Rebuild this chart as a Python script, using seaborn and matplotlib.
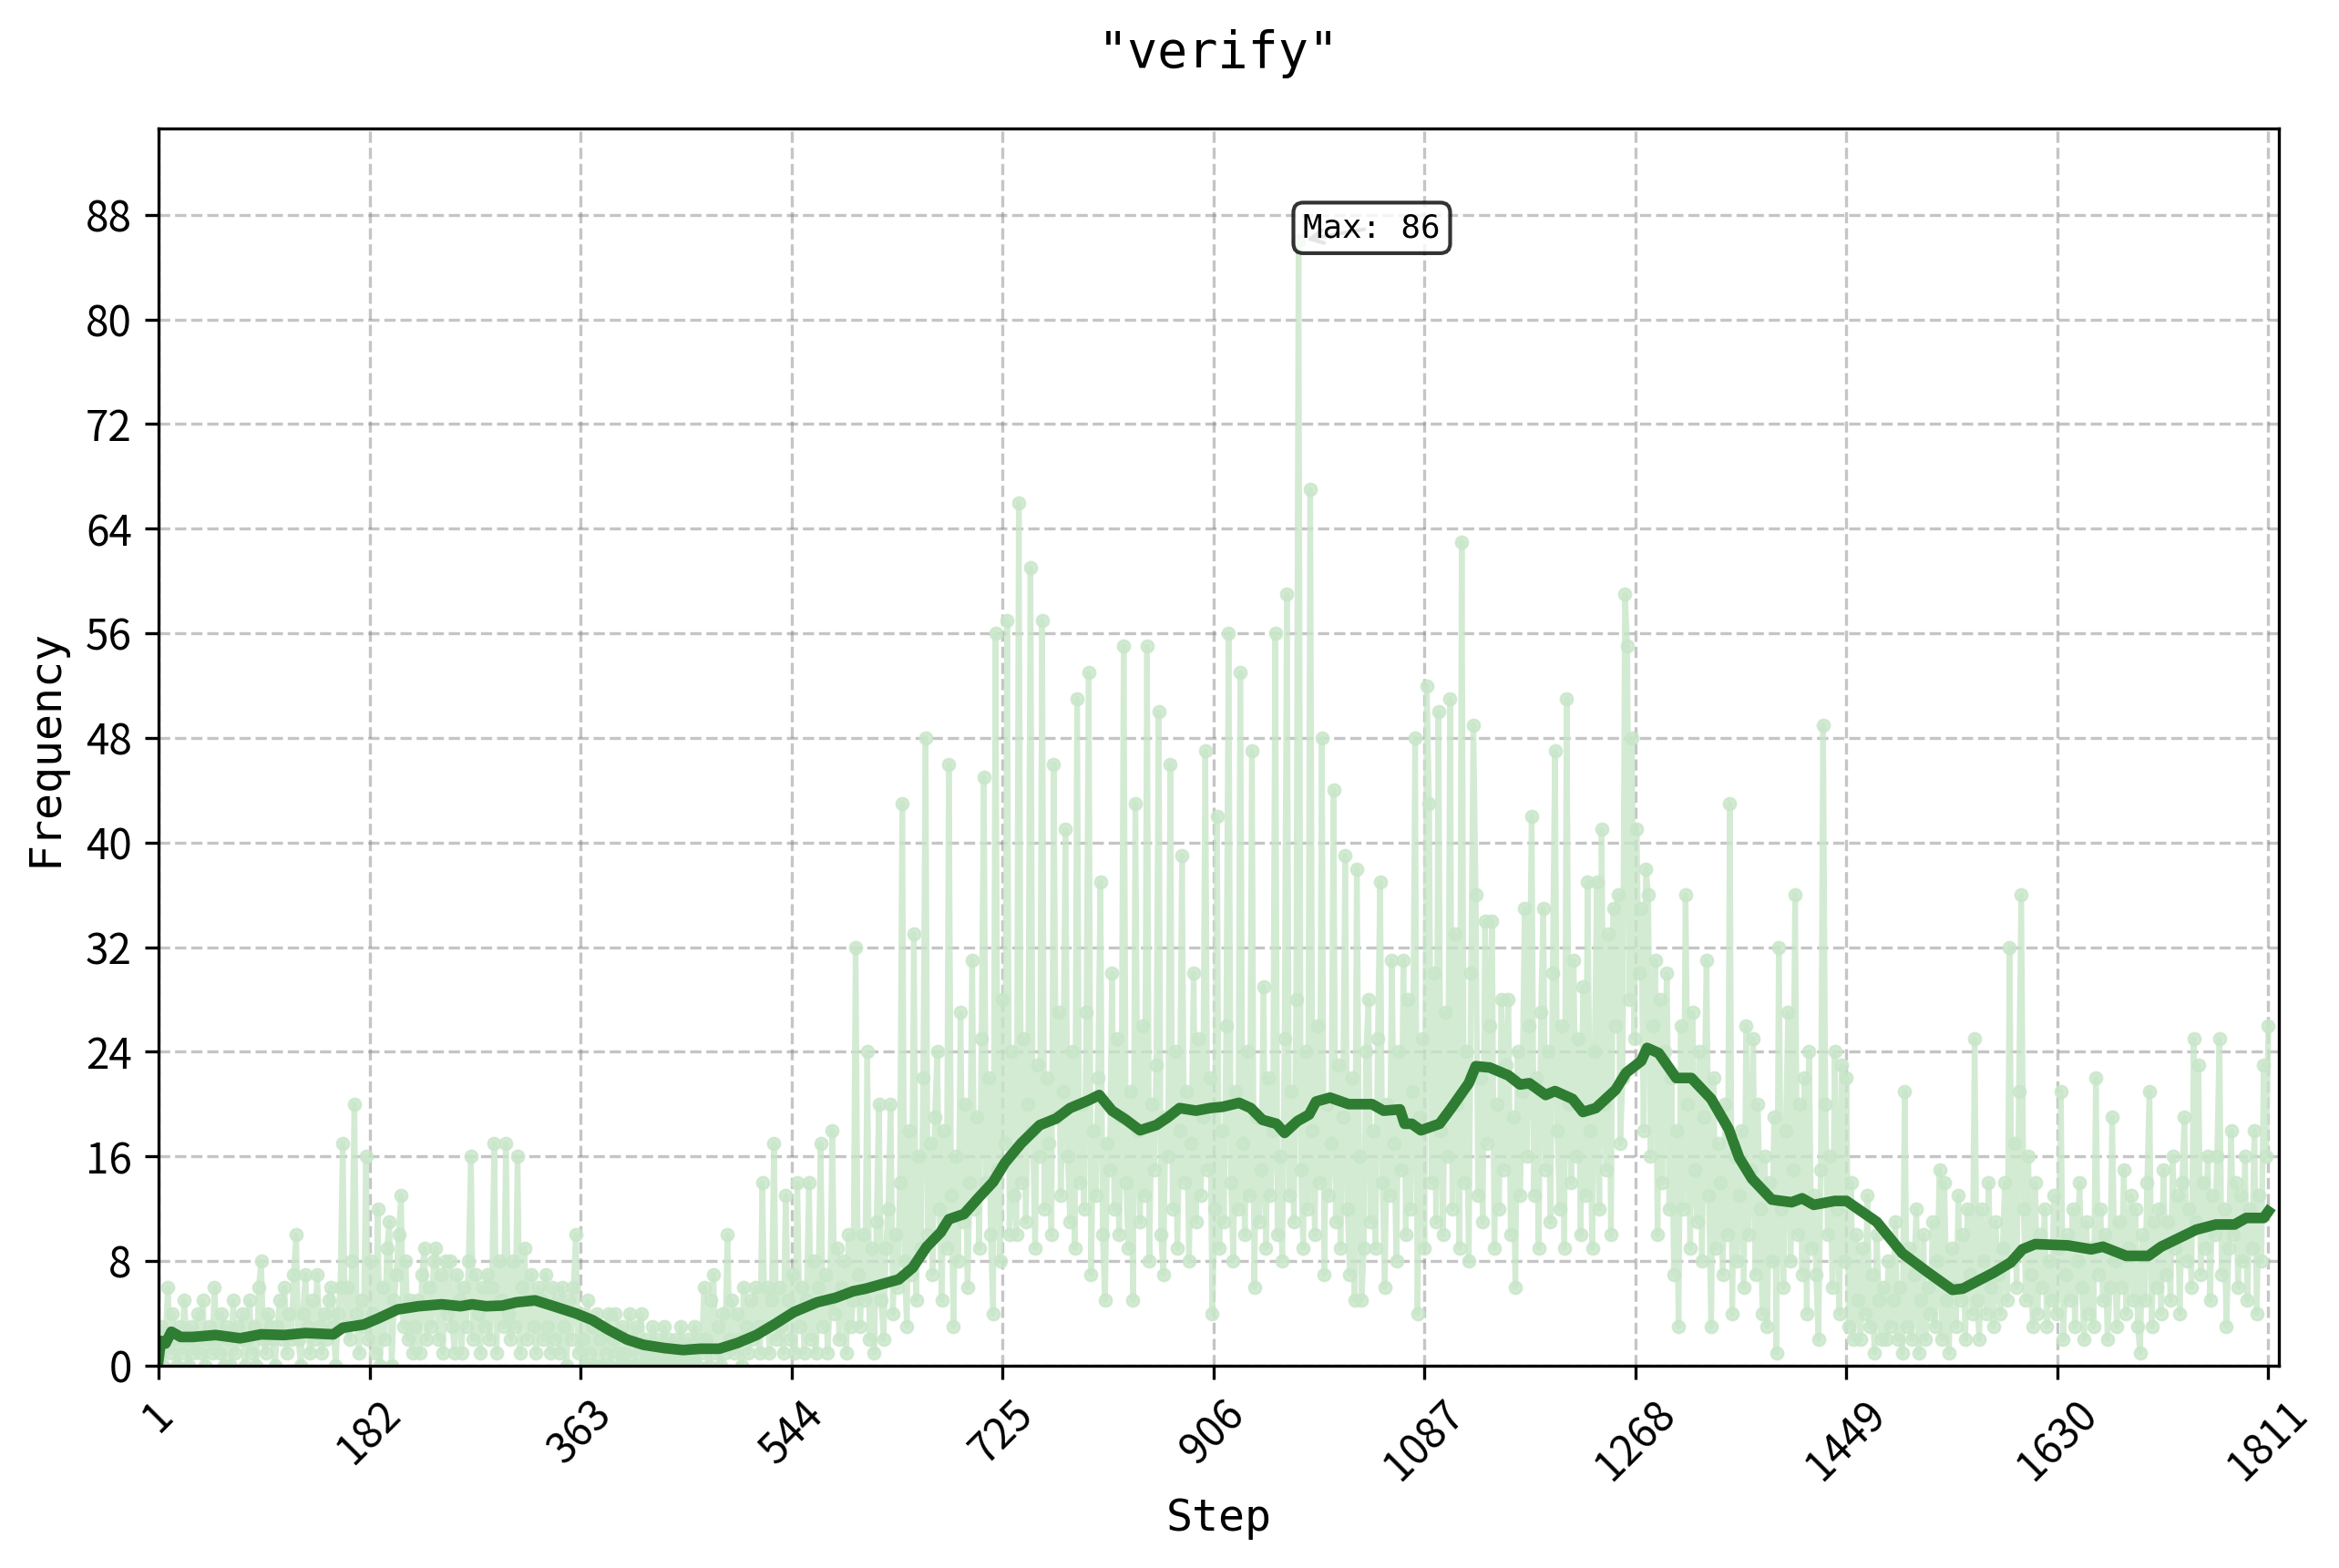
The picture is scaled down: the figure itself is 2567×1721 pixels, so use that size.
import seaborn as sns
import matplotlib
matplotlib.use('Agg')
import matplotlib.pyplot as plt

# raw counts, one value for every second step (1, 3, 5, ... 1811)
freq = [
    1,3,0,2,6,1,4,2,0,3, 1,5,2,0,3,1,2,4,1,5, 0,2,3,1,6,2,1,4,0,3, 2,0,5,1,3,2,4,0,2,5, 1,3,0,6,8,2,1,4,3,2,
    0,3,5,2,6,1,4,2,7,10, 2,0,4,7,3,1,5,2,7,3, 1,4,2,5,6,3,0,4,6,17, 3,6,2,8,20,4,1,5,3,16, 2,8,4,1,12,0,6,2,9,11,
    0,5,7,10,13,3,8,2,5,1, 3,5,1,7,9,2,6,3,8,9, 2,7,1,8,4,8,3,1,7,5, 1,6,3,8,16,2,7,4,1,6, 3,7,2,6,17,1,8,5,3,17,
    4,2,8,3,16,1,6,9,2,5, 7,3,1,6,5,2,7,3,1,6, 2,5,1,6,3,0,5,2,6,10, 1,4,2,0,5,1,3,0,4,2, 0,3,1,4,0,2,4,1,0,3,
    1,0,4,2,0,3,1,4,0,2, 0,1,3,0,2,0,1,3,0,2, 1,0,2,0,3,1,0,2,0,1, 3,0,2,1,6,2,0,5,7,1, 3,0,4,1,10,2,5,1,4,2,
    0,6,3,1,5,2,6,3,1,14, 3,6,1,5,17,2,6,3,1,13, 5,2,7,1,14,3,6,1,5,14, 2,8,1,6,17,3,7,1,5,18, 4,9,2,6,8,1,10,3,5,32,
    7,3,10,5,24,2,9,1,11,20, 5,2,9,12,20,4,10,6,14,43, 8,3,18,7,33,5,16,9,22,48, 10,17,7,19,24,12,5,18,9,46, 13,3,16,8,27,11,20,6,14,31,
    12,19,9,25,45,14,22,10,4,56, 15,8,28,17,57,10,24,13,10,66, 14,25,11,20,61,18,9,23,16,57, 12,22,17,10,46,19,27,13,21,41, 16,11,24,9,51,14,20,12,27,53,
    7,18,13,22,37,10,5,17,15,30, 12,25,10,19,55,14,9,21,5,43, 18,11,26,13,55,8,20,15,23,50, 10,7,19,16,46,12,24,9,18,39, 14,21,8,17,30,11,25,13,19,47,
    15,22,4,12,42,9,18,11,26,56, 14,8,21,12,53,17,10,24,13,47, 6,19,11,15,29,9,22,13,18,56, 10,16,8,25,59,13,21,11,28,86, 15,9,24,12,67,18,10,26,14,48,
    7,20,13,17,44,11,23,9,19,39, 12,7,22,5,38,16,5,9,24,28, 11,18,9,25,37,14,6,20,13,31, 17,8,24,15,31,10,28,12,21,48, 4,19,25,9,52,43,14,30,11,50,
    18,10,27,16,51,12,33,20,9,63, 14,24,8,30,49,36,13,22,11,34, 17,26,34,9,20,12,28,15,23,28, 10,19,6,24,13,21,35,16,26,42, 13,22,9,27,35,15,24,11,30,47,
    18,12,26,9,51,20,14,31,16,25, 10,29,13,37,18,9,24,37,12,41, 20,15,33,10,35,26,36,17,22,59, 55,28,48,25,41,30,35,18,38,36, 16,26,31,10,28,14,24,30,12,22,
    7,18,3,26,12,36,20,9,27,15, 11,24,8,19,31,13,3,22,9,17, 14,7,20,10,43,4,16,8,13,18, 6,26,10,15,25,7,20,12,4,16, 3,14,8,19,1,32,12,6,18,27,
    8,15,36,10,20,7,22,4,24,9, 13,7,2,15,49,20,10,16,6,24, 12,4,23,8,22,3,14,2,10,5, 2,9,4,13,3,7,1,10,5,2, 6,2,8,3,5,11,2,6,1,21,
    3,9,2,7,12,1,5,10,2,6, 4,11,3,8,15,2,14,5,1,9, 6,3,13,5,10,2,12,7,4,25, 5,2,12,8,4,14,6,3,11,7, 4,9,14,5,32,8,17,6,21,36,
    12,5,16,7,3,14,4,10,6,12, 3,8,5,13,4,9,21,2,7,10, 5,12,3,8,14,6,2,11,4,9, 3,22,7,12,5,10,2,6,19,8, 3,11,6,15,4,9,13,5,12,3,
    1,10,5,14,21,3,11,6,12,4, 15,7,11,5,16,9,13,4,14,19, 8,12,6,25,11,23,7,14,9,16, 5,13,10,16,25,7,12,3,9,18, 10,14,6,13,8,16,5,12,9,18,
    4,13,8,23,16,26,
]
steps = list(range(1, 2 * len(freq), 2))

# moving average
avg_steps = [1,3,7,12,20,30,50,71,89,109,127,151,159,177,189,206,224,244,260,270,282,296,308,324,340,359,373,387,403,417,435,451,466,482,498,514,530,546,566,582,597,
             608,636,648,660,672,679,692,705,717,727,741,757,771,783,799,808,819,831,843,857,867,877,891,903,914,928,938,948,960,967,978,988,994,1006,1022,1042,1052,1066,1070,1076,1084,1100,1110,1125,1131,1143,1159,1169,1177,1191,1199,
             1214,1223,1234,1251,1260,1273,1278,1288,1303,1316,1333,1348,1357,1368,1385,1402,1411,1421,1439,1449,1475,1497,1518,1540,1549,1575,1590,1600,1611,1639,1659,1669,1689,1708,1719,1749,1766,1782,1792,1807,1811]
avg_vals = [0.5,1.9,1.7,2.6,2.2,2.2,2.35,2.1,2.4,2.35,2.5,2.4,2.9,3.15,3.6,4.3,4.55,4.7,4.55,4.7,4.55,4.6,4.85,5.0,4.55,4.0,3.5,2.75,2.0,1.6,1.35,1.2,1.3,1.3,1.75,2.35,3.2,4.1,4.85,5.2,5.7,
            5.9,6.6,7.5,9.1,10.2,11.2,11.6,12.9,14.05,15.5,17,18.4,18.9,19.7,20.3,20.7,19.5,18.8,18,18.4,19,19.7,19.5,19.7,19.8,20.1,19.7,18.8,18.5,17.8,18.7,19.2,20.2,20.5,20,20,19.5,19.6,18.5,18.5,18,18.5,19.7,21.6,22.9,22.8,22.2,21.5,21.6,20.7,21,
            20.4,19.4,19.7,21.1,22.4,23.3,24.3,23.9,22,22,20.4,18.1,15.9,14.3,12.7,12.5,12.8,12.3,12.6,12.6,11,8.6,7.2,5.8,5.9,7.1,7.9,8.9,9.3,9.2,8.9,9.1,8.4,8.4,9.1,10.4,10.8,10.8,11.3,11.3,11.8]

x_ticks = [1, 182, 363, 544, 725, 906, 1087, 1268, 1449, 1630, 1811]
y_ticks = [0, 8, 16, 24, 32, 40, 48, 56, 64, 72, 80, 88]
max_step = 979
max_val = 86

mono = 'DejaVu Sans Mono'
plt.rcParams['font.family'] = ['Noto Sans CJK SC', 'DejaVu Sans']

W, H = 2567, 1721
fig = plt.figure(figsize=(W / 300, H / 300), dpi=300)
ax = fig.add_axes([174 / W, 1 - 1499 / H, (2501 - 174) / W, (1499 - 141) / H])

# сырые значения
sns.lineplot(x=steps, y=freq, ax=ax, color='#c8e6c9', alpha=0.8, linewidth=1.5,
             marker='o', markersize=3.2, markeredgewidth=0.6, markeredgecolor='#c8e6c9',
             estimator=None, sort=False, errorbar=None)
# скользящее среднее
sns.lineplot(x=avg_steps, y=avg_vals, ax=ax, color='#2e7d32', linewidth=2.8,
             estimator=None, sort=False, errorbar=None)

ax.annotate(f'Max: {max_val}', xy=(max_step, max_val), xytext=(max_step + 4, max_val + 0.3),
            fontsize=8.6, family=mono,
            bbox=dict(boxstyle='round,pad=0.3', fc='white', ec='black', alpha=0.8),
            arrowprops=dict(arrowstyle='->', color='gray', patchA=None))

ax.set_xlim(1, 1820)
ax.set_ylim(0, 94.6)
ax.set_xticks(x_ticks)
ax.set_yticks(y_ticks)
ax.tick_params(axis='x', labelrotation=45, labelsize=11)
ax.tick_params(axis='y', labelsize=11)
ax.grid(True, linestyle='--', color='gray', alpha=0.45)

ax.set_title('"verify"', fontsize=13.2, family=mono, pad=16)
ax.set_xlabel('Step', fontsize=11.6, family=mono, labelpad=2)
ax.set_ylabel('Frequency', fontsize=11.6, family=mono, labelpad=5)

plt.savefig('out.png', dpi=300)
plt.close()
